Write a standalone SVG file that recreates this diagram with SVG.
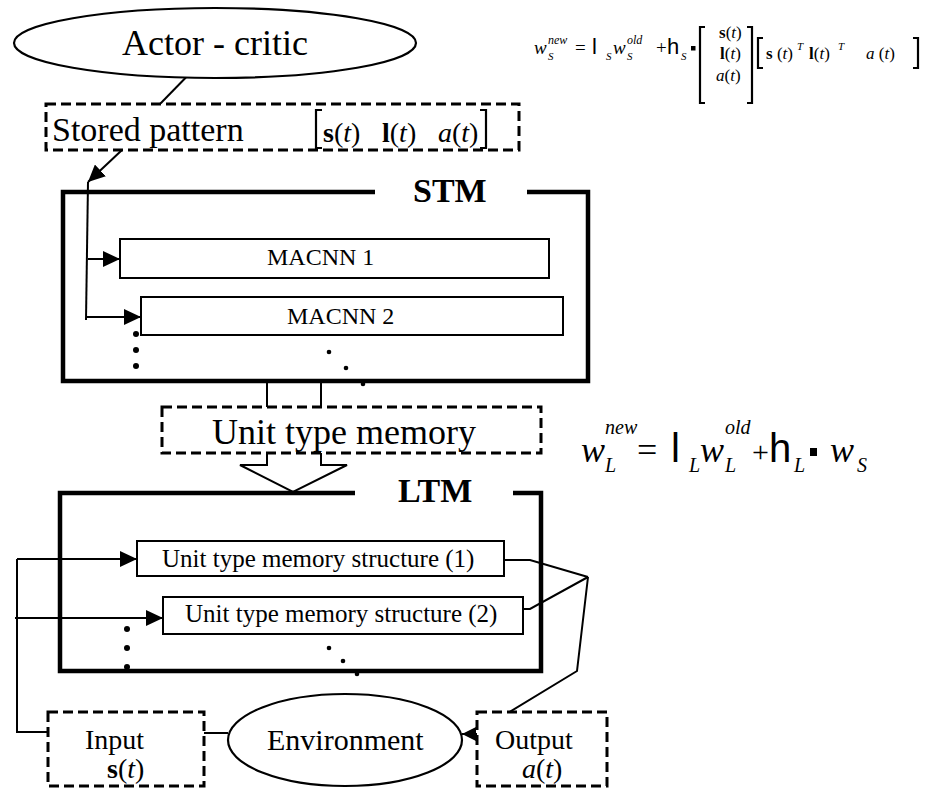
<svg xmlns="http://www.w3.org/2000/svg" width="937" height="788" viewBox="0 0 937 788">
  <style>
    .frame { fill: none; stroke: #000; stroke-width: 4.5; stroke-linejoin: miter; }
    .inner { fill: #fff; stroke: #000; stroke-width: 2; }
    .dash { fill: #fff; stroke: #000; stroke-width: 3; stroke-dasharray: 10 5; }
    .ln { fill: none; stroke: #000; stroke-width: 2; }
    .br { fill: none; stroke: #000; stroke-width: 2.2; }
    .ell { fill: #fff; stroke: #000; stroke-width: 2.2; }
    .t { font-family: "Liberation Serif", "Times New Roman", serif; fill: #000; }
    .m { font-family: "Liberation Serif", "Times New Roman", serif; font-style: italic; fill: #000; }
    .sym { font-family: "Liberation Sans", Arial, sans-serif; fill: #000; }
    .b { font-weight: bold; font-style: normal; }
    .up { font-style: normal; }
    .dot { fill: #000; }
  </style>
  <defs>
    <marker id="head" markerUnits="userSpaceOnUse" markerWidth="18" markerHeight="16" refX="17" refY="8" orient="auto">
      <path d="M0,0 L17,8 L0,16 Z" fill="#000"/>
    </marker>
    <marker id="headSmall" markerUnits="userSpaceOnUse" markerWidth="15" markerHeight="14" refX="14" refY="7" orient="auto">
      <path d="M0,0 L14,7 L0,14 Z" fill="#000"/>
    </marker>
  </defs>

  <!-- connectors -->
  <g id="connectors">
    <!-- actor-critic to stored pattern -->
    <line class="ln" x1="201" y1="62" x2="160" y2="104"/>
    <!-- stored pattern into STM -->
    <line class="ln" x1="122" y1="150" x2="88" y2="182" marker-end="url(#head)"/>
    <line class="ln" x1="88" y1="182" x2="86" y2="320"/>
    <line class="ln" x1="88" y1="259" x2="120" y2="259" marker-end="url(#head)"/>
    <line class="ln" x1="86" y1="317" x2="141" y2="317" marker-end="url(#head)"/>
    <!-- STM to unit type memory -->
    <line class="ln" x1="267" y1="381" x2="267" y2="407"/>
    <line class="ln" x1="321" y1="381" x2="321" y2="407"/>
    <!-- hollow arrow into LTM -->
    <path class="ln" d="M267,453 V465 H240 L293,492 L347,465 H321 V453"/>
    <!-- input feedback into LTM -->
    <path class="ln" d="M48,732 H17 V559"/>
    <line class="ln" x1="17" y1="559" x2="137" y2="559" marker-end="url(#head)"/>
    <line class="ln" x1="15" y1="618" x2="163" y2="618" marker-end="url(#head)"/>
    <!-- LTM outputs -->
    <path class="ln" d="M504,560 H530 L588,577"/>
    <path class="ln" d="M523,609 H530 L588,577"/>
    <path class="ln" d="M588,577 L577,671 L508,713"/>
    <!-- input / environment / output -->
    <line class="ln" x1="204" y1="733" x2="228" y2="733"/>
    <line class="ln" x1="477" y1="734" x2="462" y2="734" marker-end="url(#headSmall)"/>
  </g>

  <!-- actor-critic -->
  <g id="actor-critic">
    <ellipse class="ell" cx="215" cy="43" rx="201" ry="35"/>
    <text class="t" x="215" y="55" font-size="36" text-anchor="middle">Actor - critic</text>
  </g>

  <!-- stored pattern -->
  <g id="stored-pattern">
    <rect class="dash" x="46" y="104" width="473" height="46"/>
    <text class="t" x="52" y="141" font-size="34">Stored pattern</text>
    <path class="br" d="M322,110 H316 V148 H322"/>
    <text class="m" x="323" y="142" font-size="28"><tspan class="b">s</tspan><tspan class="up">(</tspan>t<tspan class="up">)</tspan></text>
    <text class="m" x="382" y="142" font-size="28"><tspan class="b">l</tspan><tspan class="up">(</tspan>t<tspan class="up">)</tspan></text>
    <text class="m" x="438" y="142" font-size="28">a<tspan class="up">(</tspan>t<tspan class="up">)</tspan></text>
    <path class="br" d="M480,110 H486 V148 H480"/>
  </g>

  <!-- short-term memory -->
  <g id="stm">
    <path class="frame" d="M375,192 H63 V381 H588 V192 H527"/>
    <text class="t b" x="413" y="202" font-size="34">STM</text>
    <circle class="dot" cx="136" cy="334" r="3"/>
    <circle class="dot" cx="136" cy="350" r="3"/>
    <circle class="dot" cx="136" cy="366" r="3"/>
    <circle class="dot" cx="329" cy="352" r="2.3"/>
    <circle class="dot" cx="346" cy="368" r="2.3"/>
    <circle class="dot" cx="363" cy="384" r="2.3"/>
  </g>
  <g id="macnn-1">
    <rect class="inner" x="120" y="239" width="429" height="39"/>
    <text class="t" x="267" y="265" font-size="24">MACNN 1</text>
  </g>
  <g id="macnn-2">
    <rect class="inner" x="141" y="297" width="422" height="38"/>
    <text class="t" x="287" y="324" font-size="24">MACNN 2</text>
  </g>

  <!-- unit type memory -->
  <g id="unit-type-memory">
    <rect class="dash" x="162" y="407" width="379" height="46"/>
    <text class="t" x="212" y="444" font-size="36">Unit type memory</text>
  </g>

  <!-- long-term memory -->
  <g id="ltm">
    <path class="frame" d="M355,493 H60 V671 H541 V493 H513"/>
    <text class="t b" x="398" y="502" font-size="34">LTM</text>
    <circle class="dot" cx="127" cy="629" r="3"/>
    <circle class="dot" cx="127" cy="648" r="3"/>
    <circle class="dot" cx="127" cy="667" r="3"/>
    <circle class="dot" cx="329" cy="648" r="2.3"/>
    <circle class="dot" cx="343" cy="661" r="2.3"/>
    <circle class="dot" cx="357" cy="674" r="2.3"/>
  </g>
  <g id="structure-1">
    <rect class="inner" x="137" y="541" width="367" height="35"/>
    <text class="t" x="162" y="567" font-size="25">Unit type memory structure (1)</text>
  </g>
  <g id="structure-2">
    <rect class="inner" x="163" y="597" width="360" height="37"/>
    <text class="t" x="185" y="622" font-size="25">Unit type memory structure (2)</text>
  </g>

  <!-- environment loop -->
  <g id="input">
    <rect class="dash" x="48" y="712" width="156" height="74"/>
    <text class="t" x="85" y="749" font-size="28">Input</text>
    <text class="m" x="107" y="778" font-size="28"><tspan class="b">s</tspan><tspan class="up">(</tspan>t<tspan class="up">)</tspan></text>
  </g>
  <g id="environment">
    <ellipse class="ell" cx="345" cy="740" rx="117" ry="46"/>
    <text class="t" x="267" y="750" font-size="30">Environment</text>
  </g>
  <g id="output">
    <rect class="dash" x="477" y="712" width="130" height="74"/>
    <text class="t" x="495" y="749" font-size="28">Output</text>
    <text class="m" x="522" y="778" font-size="28">a<tspan class="up">(</tspan>t<tspan class="up">)</tspan></text>
  </g>

  <!-- STM weight update -->
  <g id="stm-update">
    <text class="m" x="534" y="54" font-size="19">w</text>
    <text class="m" x="548" y="44" font-size="12">new</text>
    <text class="m" x="548" y="60" font-size="11">S</text>
    <text class="t" x="575" y="54" font-size="19">=</text>
    <text class="sym" x="592" y="54" font-size="22">l</text>
    <text class="m" x="606" y="60" font-size="11">S</text>
    <text class="m" x="613" y="54" font-size="19">w</text>
    <text class="m" x="627" y="44" font-size="12">old</text>
    <text class="m" x="627" y="60" font-size="11">S</text>
    <text class="t" x="656" y="54" font-size="19">+</text>
    <text class="sym" x="667" y="54" font-size="22">h</text>
    <text class="m" x="681" y="60" font-size="11">S</text>
    <rect x="691" y="46" width="4.5" height="4.5" fill="#000"/>
    <path class="br" d="M705,27 H700 V103 H705" stroke-width="1.4"/>
    <text class="m" x="719" y="38" font-size="17"><tspan class="b">s</tspan><tspan class="up">(</tspan>t<tspan class="up">)</tspan></text>
    <text class="m" x="720" y="59" font-size="17"><tspan class="b">l</tspan><tspan class="up">(</tspan>t<tspan class="up">)</tspan></text>
    <text class="m" x="716" y="81" font-size="17">a<tspan class="up">(</tspan>t<tspan class="up">)</tspan></text>
    <path class="br" d="M747,27 H752 V103 H747" stroke-width="1.4"/>
    <path class="br" d="M763,38 H758 V68 H763" stroke-width="2.6"/>
    <text class="m" x="766" y="59" font-size="17"><tspan class="b">s</tspan><tspan class="up"> (</tspan>t<tspan class="up">)</tspan></text>
    <text class="m" x="797" y="50" font-size="11">T</text>
    <text class="m" x="809" y="59" font-size="17"><tspan class="b">l</tspan><tspan class="up">(</tspan>t<tspan class="up">)</tspan></text>
    <text class="m" x="838" y="50" font-size="11">T</text>
    <text class="m" x="866" y="59" font-size="17">a<tspan class="up"> (</tspan>t<tspan class="up">)</tspan></text>
    <path class="br" d="M913,38 H918 V68 H913" stroke-width="2.6"/>
  </g>

  <!-- LTM weight update -->
  <g id="ltm-update">
    <text class="m" x="581" y="462" font-size="36">w</text>
    <text class="m" x="605" y="434" font-size="20">new</text>
    <text class="m" x="605" y="472" font-size="20">L</text>
    <text class="t" x="637" y="462" font-size="36">=</text>
    <text class="sym" x="671" y="462" font-size="40">l</text>
    <text class="m" x="689" y="472" font-size="20">L</text>
    <text class="m" x="700" y="462" font-size="36">w</text>
    <text class="m" x="725" y="434" font-size="20">old</text>
    <text class="m" x="725" y="472" font-size="20">L</text>
    <text class="t" x="752" y="462" font-size="30">+</text>
    <text class="sym" x="769" y="462" font-size="40">h</text>
    <text class="m" x="794" y="472" font-size="20">L</text>
    <rect x="810" y="448" width="7" height="8" fill="#000"/>
    <text class="m" x="830" y="462" font-size="36">w</text>
    <text class="m" x="857" y="472" font-size="20">S</text>
  </g>
</svg>
